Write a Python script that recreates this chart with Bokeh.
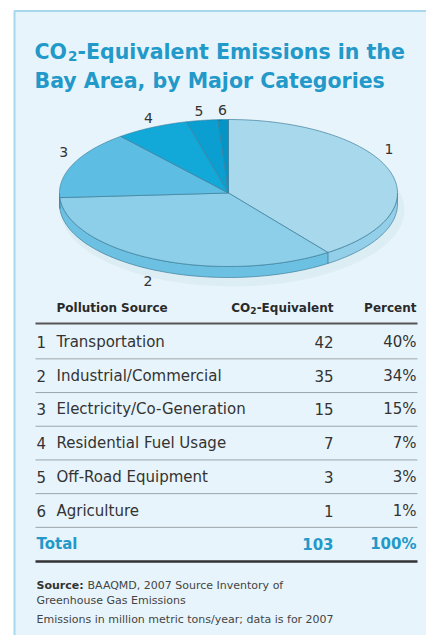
import numpy as np
from bokeh.plotting import figure
from bokeh.models import Range1d
from bokeh.core.properties import value
from bokeh.embed import file_html
from bokeh.resources import INLINE

# ---- data ----
slice_labels = ["1", "2", "3", "4", "5", "6"]
sources = ["Transportation", "Industrial/Commercial", "Electricity/Co-Generation",
           "Residential Fuel Usage", "Off-Road Equipment", "Agriculture"]
co2_values = [42, 35, 15, 7, 3, 1]
percents = [40, 34, 15, 7, 3, 1]
total_value = 103
total_percent = 100

# ---- styling ----
top_colors = ["#a8d8ec", "#8dcee9", "#5ebde2", "#12a9d9", "#0b9ed0", "#0594c6"]
rim_colors = ["#93cfe8", "#6cc1e3", "#45b2dc", "#0a9ccc", "#0891c2", "#0488b9"]
TEAL = "#2299c9"
DARK = "#333333"
FONT = value("DejaVu Sans")

W, H = 426, 635
p = figure(width=W, height=H, x_range=Range1d(0, W), y_range=Range1d(H, 0),
           output_backend="svg", toolbar_location=None, min_border=0)
p.axis.visible = False
p.grid.visible = False
p.outline_line_color = None
p.background_fill_color = "white"
p.border_fill_color = "white"

# panel
p.quad(left=14, right=460, top=10.5, bottom=680, fill_color="#e8f4fb",
       line_color="#a7d8ee", line_width=2)

# title (CO + subscript 2 + rest)
TS = 20.5
p.text(x=[34], y=[51], text=["CO"], text_font=FONT, text_font_size=f"{TS}px",
       text_color=TEAL, text_baseline="alphabetic", text_font_style="bold")
p.text(x=[67.5], y=[55], text=["2"], text_font=FONT, text_font_size="13.5px",
       text_color=TEAL, text_baseline="alphabetic", text_font_style="bold")
p.text(x=[77], y=[51], text=["-Equivalent Emissions in the"], text_font=FONT,
       text_font_size=f"{TS}px", text_color=TEAL, text_baseline="alphabetic",
       text_font_style="bold")
p.text(x=[34], y=[80], text=["Bay Area, by Major Categories"], text_font=FONT,
       text_font_size=f"{TS}px", text_color=TEAL, text_baseline="alphabetic",
       text_font_style="bold")

# ---- 3D pie ----
cx, cy, rx, ry, depth = 228, 192.5, 169, 73.5, 11
cum = np.concatenate([[0], np.cumsum(percents)]) / 100.0 * 360.0

def pt(theta_deg, dy=0.0):
    t = np.radians(theta_deg)
    return cx + rx * np.sin(t), cy - ry * np.cos(t) + dy

# soft shadow
p.ellipse(x=[cx + 4], y=[cy + depth + 6], width=[2 * rx + 6], height=[2 * ry + 6],
          fill_color="#d6e7f0", fill_alpha=0.6, line_color=None)

# rims (front visible part: 90..270 deg)
for i in range(len(percents)):
    a0, a1 = max(cum[i], 90), min(cum[i + 1], 270)
    if a1 <= a0:
        continue
    th = np.linspace(a0, a1, 60)
    xs1, ys1 = pt(th)
    xs2, ys2 = pt(th[::-1], depth)
    p.patch(x=np.concatenate([xs1, xs2]), y=np.concatenate([ys1, ys2]),
            fill_color=rim_colors[i], line_color="#3f7f9c", line_width=0.7)

# tops
for i in range(len(percents)):
    th = np.linspace(cum[i], cum[i + 1], 120)
    xs, ys = pt(th)
    p.patch(x=np.concatenate([[cx], xs]), y=np.concatenate([[cy], ys]),
            fill_color=top_colors[i], line_color="#3f7f9c", line_width=0.7)

# slice labels
nudge = [-14, 0, 6, 2, 0, 0]
lx, ly = [], []
for i in range(len(percents)):
    mid = (cum[i] + cum[i + 1]) / 2 + nudge[i]
    t = np.radians(mid)
    x = cx + rx * 1.12 * np.sin(t)
    y = cy - ry * 1.13 * np.cos(t)
    if np.cos(t) < 0:
        y += depth + 2
    lx.append(x)
    ly.append(y)
p.text(x=lx, y=ly, text=slice_labels, text_font=FONT, text_font_size="14px",
       text_color=DARK, text_align="center", text_baseline="middle")

# ---- table ----
x_num, x_name, x_val, x_pct = 36, 56, 333, 416
hy = 307
HS = "12px"
HC = "#2a2a2a"
p.text(x=[x_name], y=[hy], text=["Pollution Source"], text_font=FONT, text_font_size=HS,
       text_color=HC, text_baseline="middle", text_align="left", text_font_style="bold")
p.text(x=[x_val], y=[hy], text=["-Equivalent"], text_font=FONT, text_font_size=HS,
       text_color=HC, text_baseline="middle", text_align="right", text_font_style="bold")
p.text(x=[x_val - 77], y=[hy + 3], text=["2"], text_font=FONT, text_font_size="9px",
       text_color=HC, text_baseline="middle", text_align="right", text_font_style="bold")
p.text(x=[x_val - 83.3], y=[hy], text=["CO"], text_font=FONT, text_font_size=HS,
       text_color=HC, text_baseline="middle", text_align="right", text_font_style="bold")
p.text(x=[x_pct], y=[hy], text=["Percent"], text_font=FONT, text_font_size=HS,
       text_color=HC, text_baseline="middle", text_align="right", text_font_style="bold")
p.segment(x0=[35], y0=[323], x1=[417], y1=[323], line_color="#555555", line_width=2)

row0, step = 341.5, 33.7
ys = [row0 + i * step for i in range(len(sources))]
p.text(x=[x_num] * len(ys), y=ys, text=slice_labels, text_font=FONT,
       text_font_size="15px", text_color=DARK, text_baseline="middle")
p.text(x=[x_name] * len(ys), y=ys, text=sources, text_font=FONT,
       text_font_size="15px", text_color=DARK, text_baseline="middle")
p.text(x=[x_val] * len(ys), y=ys, text=[str(v) for v in co2_values], text_font=FONT,
       text_font_size="15px", text_color=DARK, text_baseline="middle", text_align="right")
p.text(x=[x_pct] * len(ys), y=ys, text=[f"{v}%" for v in percents], text_font=FONT,
       text_font_size="15px", text_color=DARK, text_baseline="middle", text_align="right")
sep = [y + step / 2 for y in ys]
p.segment(x0=[35] * len(sep), y0=sep, x1=[417] * len(sep), y1=sep,
          line_color="#9aa5ab", line_width=1)

ty = row0 + len(sources) * step
p.text(x=[36], y=[ty], text=["Total"], text_font=FONT, text_font_size="15px",
       text_color=TEAL, text_baseline="middle", text_font_style="bold")
p.text(x=[x_val], y=[ty], text=[str(total_value)], text_font=FONT, text_font_size="15px",
       text_color=TEAL, text_baseline="middle", text_align="right", text_font_style="bold")
p.text(x=[x_pct], y=[ty], text=[f"{total_percent}%"], text_font=FONT, text_font_size="15px",
       text_color=TEAL, text_baseline="middle", text_align="right", text_font_style="bold")
p.segment(x0=[35], y0=[561], x1=[417], y1=[561], line_color="#333333", line_width=2.5)

# footer
p.text(x=[36], y=[585], text=["Source:"], text_font=FONT, text_font_size="11px",
       text_color="#333333", text_baseline="middle", text_font_style="bold")
p.text(x=[87], y=[585], text=["BAAQMD, 2007 Source Inventory of"], text_font=FONT,
       text_font_size="11px", text_color="#444444", text_baseline="middle")
p.text(x=[36, 36], y=[600, 619], text=["Greenhouse Gas Emissions",
                                       "Emissions in million metric tons/year; data is for 2007"],
       text_font=FONT, text_font_size="11px", text_color="#444444", text_baseline="middle")

open("out.html", "w").write(file_html(p, INLINE))
